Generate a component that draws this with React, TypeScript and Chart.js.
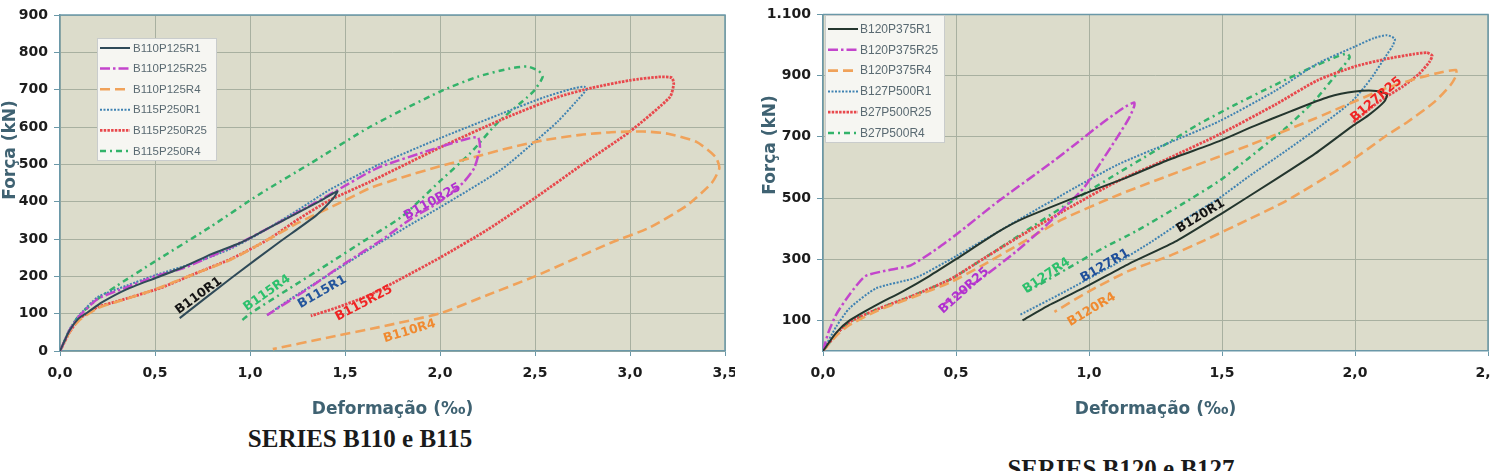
import React, { useEffect, useRef } from "react";
import { Chart, registerables } from "chart.js";

Chart.register(...registerables);

// ---------- Series B110 / B115 (strain ‰, force kN) ----------
const b110r1X = [0, 0.05, 0.1, 0.15, 0.22, 0.35, 0.5, 0.65, 0.8, 0.95, 1.1, 1.25, 1.38, 1.46, 1.44, 1.35, 1.15, 0.9, 0.63];
const b110r1Y = [0, 55, 88, 105, 130, 165, 195, 225, 260, 290, 330, 370, 405, 428, 410, 364, 290, 195, 88];

const b110r25X = [0, 0.05, 0.1, 0.2, 0.35, 0.5, 0.65, 0.8, 0.95, 1.1, 1.3, 1.45, 1.67, 1.96, 2.14, 2.2, 2.21, 2.18, 2.12, 2.0, 1.85, 1.7, 1.5, 1.3, 1.09];
const b110r25Y = [0, 55, 92, 140, 170, 200, 222, 255, 290, 330, 385, 428, 490, 540, 568, 572, 545, 490, 450, 400, 355, 300, 235, 165, 96];

const b110r4X = [0, 0.05, 0.1, 0.2, 0.3, 0.5, 0.7, 0.9, 1.1, 1.26, 1.47, 1.63, 1.8, 2.0, 2.2, 2.38, 2.55, 2.74, 2.9, 3.07, 3.2, 3.35, 3.45, 3.47, 3.43, 3.3, 3.1, 2.9, 2.7, 2.49, 2.25, 2.0, 1.68, 1.4, 1.12];
const b110r4Y = [0, 50, 82, 115, 132, 165, 205, 245, 300, 345, 396, 436, 465, 495, 522, 546, 565, 579, 586, 588, 582, 560, 520, 490, 450, 390, 330, 290, 245, 198, 150, 101, 64, 35, 5];

const b115r1X = [0, 0.05, 0.1, 0.2, 0.35, 0.5, 0.7, 0.89, 1.05, 1.26, 1.42, 1.68, 2.0, 2.32, 2.55, 2.7, 2.76, 2.77, 2.72, 2.62, 2.52, 2.32, 2.0, 1.68, 1.4, 1.2, 1.09];
const b115r1Y = [0, 58, 95, 145, 175, 203, 235, 272, 315, 380, 432, 500, 570, 635, 680, 703, 708, 700, 670, 615, 570, 485, 385, 289, 200, 135, 96];

const b115r25X = [0, 0.05, 0.1, 0.2, 0.3, 0.53, 0.7, 0.91, 1.1, 1.26, 1.42, 1.63, 2.0, 2.32, 2.62, 2.8, 3.0, 3.15, 3.22, 3.23, 3.21, 3.0, 2.75, 2.5, 2.25, 2.0, 1.8, 1.63, 1.45, 1.32];
const b115r25Y = [0, 50, 85, 118, 133, 169, 205, 249, 300, 355, 404, 453, 545, 619, 680, 705, 725, 734, 732, 715, 680, 588, 500, 410, 325, 250, 195, 150, 115, 94];

const b115r4X = [0, 0.05, 0.1, 0.2, 0.3, 0.5, 0.79, 1.05, 1.32, 1.63, 2.0, 2.2, 2.37, 2.46, 2.52, 2.54, 2.5, 2.46, 2.3, 2.16, 2.0, 1.8, 1.6, 1.42, 1.2, 1.0, 0.96];
const b115r4Y = [0, 55, 95, 140, 175, 240, 332, 420, 503, 600, 695, 735, 757, 762, 750, 734, 700, 680, 610, 530, 455, 360, 295, 236, 165, 100, 83];

// ---------- Series B120 / B127 ----------
const b120r1X = [0, 0.05, 0.1, 0.2, 0.3, 0.4, 0.5, 0.66, 0.75, 1.0, 1.15, 1.3, 1.49, 1.62, 1.76, 1.9, 2.0, 2.08, 2.12, 2.11, 2.05, 1.99, 1.85, 1.7, 1.5, 1.33, 1.15, 1.0, 0.85, 0.75];
const b120r1Y = [0, 60, 100, 150, 195, 245, 300, 390, 432, 520, 570, 625, 686, 735, 784, 830, 848, 850, 838, 815, 770, 735, 645, 560, 450, 360, 285, 215, 150, 100];

const b120r25X = [0, 0.02, 0.05, 0.1, 0.16, 0.25, 0.33, 0.43, 0.5, 0.66, 0.85, 0.94, 1.05, 1.13, 1.17, 1.17, 1.15, 1.1, 1.04, 0.98, 0.85, 0.73, 0.6, 0.5, 0.44];
const b120r25Y = [0, 60, 120, 185, 245, 265, 280, 335, 380, 490, 610, 670, 745, 795, 812, 800, 760, 690, 610, 533, 420, 328, 240, 180, 145];

const b120r4X = [0, 0.05, 0.1, 0.2, 0.35, 0.48, 0.6, 0.73, 0.9, 1.11, 1.35, 1.61, 1.85, 2.12, 2.25, 2.33, 2.38, 2.38, 2.36, 2.3, 2.2, 2.12, 1.95, 1.74, 1.6, 1.43, 1.3, 1.15, 1.0, 0.87];
const b120r4Y = [0, 50, 85, 130, 180, 225, 280, 345, 430, 510, 590, 675, 760, 860, 895, 912, 918, 900, 870, 815, 750, 705, 600, 490, 430, 360, 310, 262, 195, 128];

const b127r1X = [0, 0.05, 0.1, 0.2, 0.35, 0.5, 0.75, 0.95, 1.11, 1.3, 1.49, 1.7, 1.86, 2.0, 2.07, 2.12, 2.15, 2.14, 2.12, 2.06, 1.99, 1.87, 1.74, 1.6, 1.49, 1.36, 1.24, 1.1, 0.9, 0.74];
const b127r1Y = [0, 80, 140, 205, 240, 310, 436, 535, 610, 680, 751, 850, 940, 995, 1022, 1032, 1020, 995, 969, 890, 817, 735, 654, 570, 500, 430, 360, 285, 190, 118];

const b127r25X = [0, 0.05, 0.1, 0.2, 0.35, 0.48, 0.6, 0.75, 0.95, 1.11, 1.3, 1.49, 1.7, 1.86, 2.0, 2.12, 2.22, 2.27, 2.29, 2.28, 2.24, 2.18, 2.09, 1.99];
const b127r25Y = [0, 55, 95, 135, 185, 235, 300, 380, 480, 556, 630, 708, 805, 885, 930, 955, 970, 975, 965, 945, 905, 865, 815, 745];

const b127r4X = [0, 0.05, 0.1, 0.2, 0.35, 0.48, 0.6, 0.75, 0.9, 1.08, 1.25, 1.41, 1.55, 1.7, 1.82, 1.92, 1.97, 1.98, 1.96, 1.93, 1.85, 1.74, 1.6, 1.49, 1.35, 1.18, 1.05, 0.92, 0.77];
const b127r4Y = [0, 55, 95, 135, 185, 235, 300, 385, 470, 566, 655, 740, 805, 870, 920, 958, 972, 960, 935, 904, 820, 729, 630, 556, 480, 393, 335, 270, 195];

// Curve tags written along the unloading branches
const leftTags = ["B110R1", "B115R4", "B115R1", "B115R25", "B110R4", "B110R25"];
const leftTagX = [0.73, 1.09, 1.38, 1.6, 1.84, 1.96];
const leftTagY = [148, 155, 158, 128, 53, 400];

const rightTags = ["B120R1", "B127R25", "B127R4", "B127R1", "B120R25", "B120R4"];
const rightTagX = [1.42, 2.08, 0.84, 1.06, 0.53, 1.01];
const rightTagY = [441, 822, 246, 279, 197, 135];

// ---------- styling ----------
type LineStyle = { color: string; dash: number[]; width: number };
const SOLID_L: LineStyle = { color: "#2f4a58", dash: [], width: 2 };
const SOLID_R: LineStyle = { color: "#24362e", dash: [], width: 2 };
const MAGENTA: LineStyle = { color: "#c345cc", dash: [10, 3, 2.5, 3], width: 2.5 };
const ORANGE: LineStyle = { color: "#f0a25a", dash: [10, 5], width: 2.6 };
const BLUE: LineStyle = { color: "#3f82b2", dash: [2, 1.5], width: 2 };
const RED: LineStyle = { color: "#e8484c", dash: [2.5, 1.2], width: 2.8 };
const GREEN: LineStyle = { color: "#33b36a", dash: [6, 4, 2, 4], width: 2.5 };

const PLOT_BG = "#dcdccb";
const GRID = "#a8b0a0";
const AXIS = "#6a98a8";
const TITLE_COLOR = "#3f6272";
const TICK_COLOR = "#1c1c1c";
const SANS = "'DejaVu Sans', Verdana, sans-serif";

function pts(xs: number[], ys: number[]) {
  return xs.map((x, i) => ({ x, y: ys[i] }));
}

function ds(label: string, xs: number[], ys: number[], s: LineStyle) {
  return {
    label,
    data: pts(xs, ys),
    showLine: true,
    borderColor: s.color,
    backgroundColor: s.color,
    borderWidth: s.width,
    borderDash: s.dash,
    pointRadius: 0,
    pointHoverRadius: 0,
    tension: 0.2,
    fill: false,
  };
}

const comma = (v: number) => v.toFixed(1).replace(".", ",");
const thousands = (v: number) =>
  v >= 1000 ? Math.floor(v / 1000) + "." + String(v % 1000).padStart(3, "0") : String(v);

type LegendBox = { x: number; y: number; w: number; h: number; row0: number; rowH: number; sx: number; sw: number; tx: number; font: string };
type TagStyle = { color: string; angle: number };
type AxisTitle = { x: number; y: number };

function makePlugins(legend: LegendBox, yTitle: AxisTitle, tags: string[], tx: number[], ty: number[], tagStyles: TagStyle[]) {
  return [
    {
      id: "plotFrame",
      beforeDraw(chart: any) {
        const { ctx, chartArea: a } = chart;
        ctx.save();
        ctx.fillStyle = PLOT_BG;
        ctx.fillRect(a.left, a.top, a.right - a.left, a.bottom - a.top);
        ctx.restore();
      },
      beforeDatasetsDraw(chart: any) {
        const { ctx, chartArea: a } = chart;
        ctx.save();
        ctx.strokeStyle = AXIS;
        ctx.lineWidth = 1.5;
        ctx.beginPath();
        ctx.moveTo(a.left, a.top);
        ctx.lineTo(a.right, a.top);
        ctx.lineTo(a.right, a.bottom);
        ctx.stroke();
        // vertical axis title
        ctx.translate(yTitle.x, yTitle.y);
        ctx.rotate(-Math.PI / 2);
        ctx.font = `bold 17px ${SANS}`;
        ctx.fillStyle = TITLE_COLOR;
        ctx.textAlign = "center";
        ctx.textBaseline = "middle";
        ctx.fillText("Força (kN)", 0, 0);
        ctx.restore();
      },
    },
    {
      id: "curveTags",
      afterDatasetsDraw(chart: any) {
        const { ctx } = chart;
        const xs = chart.scales.x;
        const ys = chart.scales.y;
        ctx.save();
        ctx.font = `bold 12.5px ${SANS}`;
        ctx.textAlign = "center";
        ctx.textBaseline = "middle";
        tags.forEach((t, i) => {
          const px = xs.getPixelForValue(tx[i]);
          const py = ys.getPixelForValue(ty[i]);
          ctx.save();
          ctx.translate(px, py);
          ctx.rotate((tagStyles[i].angle * Math.PI) / 180);
          ctx.fillStyle = tagStyles[i].color;
          ctx.fillText(t, 0, 0);
          ctx.restore();
        });
        ctx.restore();
      },
    },
    {
      id: "boxLegend",
      afterDatasetsDraw(chart: any) {
        const { ctx } = chart;
        const L = legend;
        ctx.save();
        ctx.fillStyle = "#f6f6f2";
        ctx.strokeStyle = "#c9cccc";
        ctx.lineWidth = 1;
        ctx.fillRect(L.x, L.y, L.w, L.h);
        ctx.strokeRect(L.x + 0.5, L.y + 0.5, L.w - 1, L.h - 1);
        ctx.font = L.font;
        ctx.textAlign = "left";
        ctx.textBaseline = "middle";
        chart.data.datasets.forEach((d: any, i: number) => {
          const cy = L.row0 + i * L.rowH;
          ctx.save();
          ctx.strokeStyle = d.borderColor;
          ctx.lineWidth = d.borderWidth;
          ctx.setLineDash(d.borderDash || []);
          ctx.beginPath();
          ctx.moveTo(L.sx, cy);
          ctx.lineTo(L.sx + L.sw, cy);
          ctx.stroke();
          ctx.restore();
          ctx.fillStyle = "#5a6a72";
          ctx.fillText(d.label, L.tx, cy + 0.5);
        });
        ctx.restore();
      },
    },
  ];
}

function scalesFor(xMax: number, yMax: number, yTicks: number[] | null, yWidth: number) {
  const tickFont = { family: SANS, weight: "bold" as const, size: 14 };
  const titleFont = { family: SANS, weight: "bold" as const, size: 17 };
  return {
    x: {
      type: "linear" as const,
      min: 0,
      max: xMax,
      ticks: { stepSize: 0.5, callback: (v: any) => comma(Number(v)), font: tickFont, color: TICK_COLOR, padding: 9, maxRotation: 0 },
      grid: { color: GRID, tickLength: 5, tickColor: AXIS, lineWidth: 1 },
      border: { color: AXIS, width: 1.5 },
      title: { display: true, text: "Deformação (‰)", color: TITLE_COLOR, font: titleFont, padding: { top: 2, bottom: 5 } },
      afterFit: (s: any) => {
        s.height = 74;
      },
    },
    y: {
      type: "linear" as const,
      min: 0,
      max: yMax,
      ticks: { stepSize: 100, callback: (v: any) => thousands(Number(v)), font: tickFont, color: TICK_COLOR, padding: 6 },
      grid: { color: GRID, tickLength: 6, tickColor: AXIS, lineWidth: 1 },
      border: { color: AXIS, width: 1.5 },
      title: { display: false },
      afterBuildTicks: (s: any) => {
        if (yTicks) s.ticks = yTicks.map((v) => ({ value: v }));
      },
      afterFit: (s: any) => {
        s.width = yWidth;
      },
    },
  };
}

function leftConfig(): any {
  const datasets = [
    ds("B110P125R1", b110r1X, b110r1Y, SOLID_L),
    ds("B110P125R25", b110r25X, b110r25Y, MAGENTA),
    ds("B110P125R4", b110r4X, b110r4Y, ORANGE),
    ds("B115P250R1", b115r1X, b115r1Y, BLUE),
    ds("B115P250R25", b115r25X, b115r25Y, RED),
    ds("B115P250R4", b115r4X, b115r4Y, GREEN),
  ];
  const tagStyles: TagStyle[] = [
    { color: "#141414", angle: -36 },
    { color: "#2cc06c", angle: -35 },
    { color: "#24569c", angle: -30 },
    { color: "#f02424", angle: -28 },
    { color: "#f08a30", angle: -17 },
    { color: "#b030d0", angle: -29 },
  ];
  const legend: LegendBox = { x: 97, y: 38, w: 120, h: 123, row0: 48, rowH: 20.6, sx: 100, sw: 30, tx: 133, font: "11.5px 'Liberation Sans', Arial, sans-serif" };
  return {
    type: "scatter",
    data: { datasets },
    options: {
      animation: false,
      responsive: false,
      maintainAspectRatio: false,
      layout: { padding: { left: 0, top: 15, right: 25, bottom: 0 } },
      plugins: { legend: { display: false }, tooltip: { enabled: false } },
      scales: scalesFor(3.5, 900, null, 60),
    },
    plugins: makePlugins(legend, { x: 11, y: 150 }, leftTags, leftTagX, leftTagY, tagStyles),
  };
}

function rightConfig(): any {
  const datasets = [
    ds("B120P375R1", b120r1X, b120r1Y, SOLID_R),
    ds("B120P375R25", b120r25X, b120r25Y, MAGENTA),
    ds("B120P375R4", b120r4X, b120r4Y, ORANGE),
    ds("B127P500R1", b127r1X, b127r1Y, BLUE),
    ds("B27P500R25", b127r25X, b127r25Y, RED),
    ds("B27P500R4", b127r4X, b127r4Y, GREEN),
  ];
  const tagStyles: TagStyle[] = [
    { color: "#141414", angle: -31 },
    { color: "#f02424", angle: -40 },
    { color: "#2cc06c", angle: -34 },
    { color: "#1f4f9a", angle: -30 },
    { color: "#b030d0", angle: -42 },
    { color: "#f08a30", angle: -31 },
  ];
  const legend: LegendBox = { x: 65, y: 15, w: 120, h: 128, row0: 29, rowH: 20.8, sx: 68, sw: 30, tx: 100, font: "12px 'Liberation Sans', Arial, sans-serif" };
  return {
    type: "scatter",
    data: { datasets },
    options: {
      animation: false,
      responsive: false,
      maintainAspectRatio: false,
      layout: { padding: { left: 0, top: 13, right: 32, bottom: 0 } },
      plugins: { legend: { display: false }, tooltip: { enabled: false } },
      scales: scalesFor(2.5, 1100, [100, 300, 500, 700, 900, 1100], 63),
    },
    plugins: makePlugins(legend, { x: 11, y: 145 }, rightTags, rightTagX, rightTagY, tagStyles),
  };
}

function Panel(props: { make: () => any; left: number; width: number; height: number; clip: number }) {
  const ref = useRef<HTMLCanvasElement>(null);
  useEffect(() => {
    const chart = new Chart(ref.current as HTMLCanvasElement, props.make());
    return () => chart.destroy();
  }, []);
  return (
    <div style={{ position: "absolute", left: props.left, top: 0, width: props.clip, height: props.height, overflow: "hidden" }}>
      <canvas ref={ref} width={props.width} height={props.height} style={{ width: props.width, height: props.height, display: "block" }} />
    </div>
  );
}

const captionStyle: React.CSSProperties = {
  position: "absolute",
  fontFamily: "'Liberation Serif', 'Times New Roman', serif",
  fontWeight: "bold",
  fontSize: 25,
  lineHeight: "25px",
  color: "#1a1a1a",
  textAlign: "center",
  whiteSpace: "nowrap",
};

export default function App() {
  return (
    <div style={{ position: "fixed", left: 0, top: 0, width: 1508, height: 471, background: "#ffffff", overflow: "hidden" }}>
      <Panel make={leftConfig} left={0} width={750} height={425} clip={735} />
      <Panel make={rightConfig} left={760} width={760} height={425} clip={730} />
      <div style={{ ...captionStyle, left: 160, width: 400, top: 426 }}>SERIES B110 e B115</div>
      <div style={{ ...captionStyle, left: 921, width: 400, top: 456 }}>SERIES B120 e B127</div>
    </div>
  );
}
